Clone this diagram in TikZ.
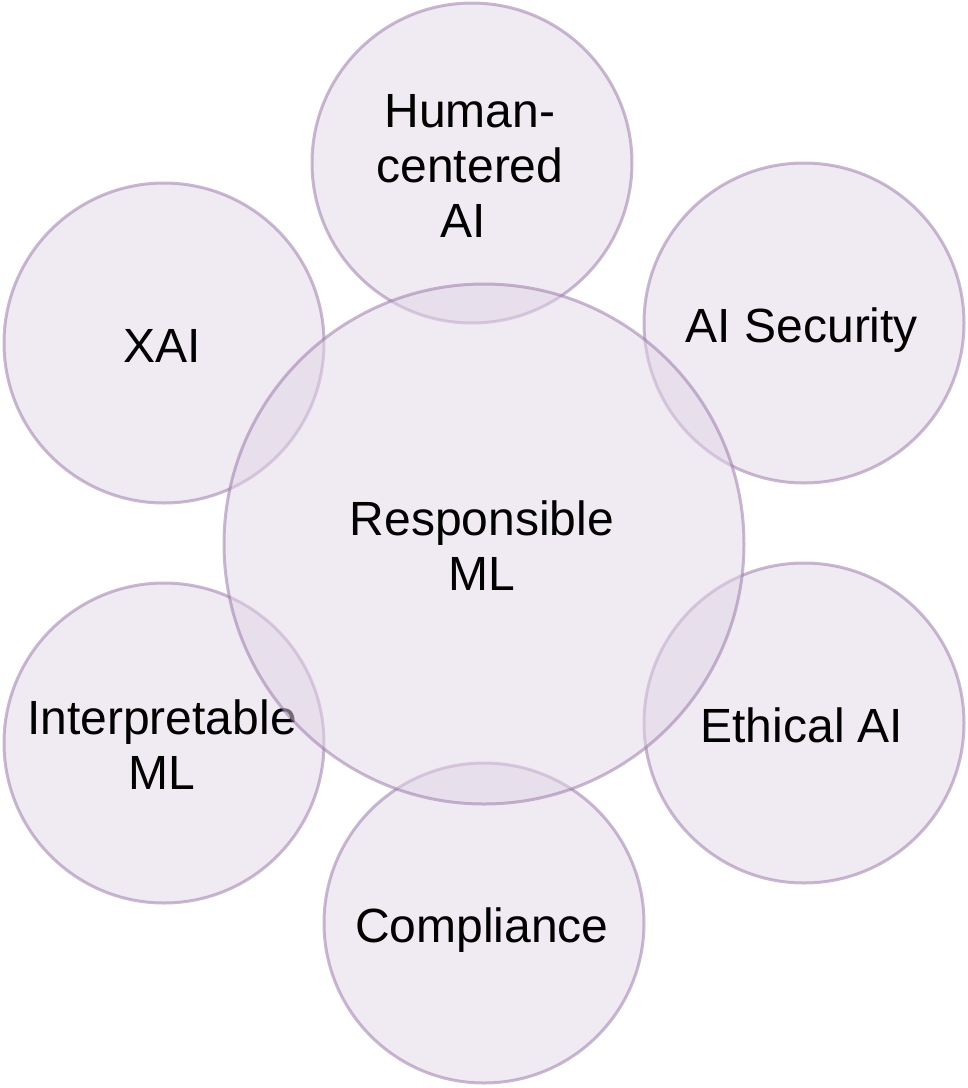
\documentclass[tikz,border=0pt]{standalone}
\usepackage{fontspec}
\setmainfont{Liberation Sans}
\usepackage{tikz}
\usetikzlibrary{positioning}
\definecolor{bubbleFill}{HTML}{E1D5E7}
\definecolor{bubbleLine}{HTML}{9673A6}
% every text line gets the same height and depth
\newcommand{\ls}{\rule[-12pt]{0pt}{62pt}}
\newcommand{\bubblefont}{\fontsize{48}{55}\selectfont\lineskiplimit=-100pt\relax}

\tikzset{
  bubble/.style={circle, draw=bubbleLine, fill=bubbleFill, line width=3pt,
    fill opacity=0.5, draw opacity=0.5, inner sep=0pt, minimum size=#1},
  bubble/.default=320pt,
  bubbletext/.style={align=center, inner sep=0pt, xshift=-2pt, font=\bubblefont}
}

\begin{document}
\begin{tikzpicture}[x=1pt,y=-1pt]
  \useasboundingbox (0,0) rectangle (968,1088);
  % outer topics
  \node[bubble, label={[bubbletext]center:{\ls Human-\\\ls centered\\\ls AI\kern0.278em}}] (hcai) at (472,163) {};
  \node[bubble, label={[bubbletext]center:{\ls AI Security}}] (aisec) at (804,323) {};
  \node[bubble, label={[bubbletext]center:{\ls XAI}}] (xai) at (164,343) {};
  \node[bubble, label={[bubbletext]center:{\ls Ethical AI}}] (ethai) at (804,723) {};
  \node[bubble, label={[bubbletext]center:{\ls Interpretable\\\ls ML}}] (interp) at (164,743) {};
  \node[bubble, label={[bubbletext]center:{\ls Compliance}}] (compl) at (484,923) {};
  % central topic
  \node[bubble=520pt, label={[bubbletext]center:{\ls Responsible\\\ls ML}}] (rml) at (484,544) {};
\end{tikzpicture}
\end{document}
